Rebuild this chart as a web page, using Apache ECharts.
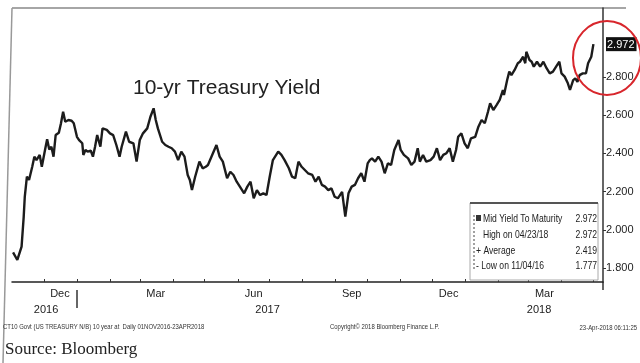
<!DOCTYPE html>
<html><head><meta charset="utf-8">
<script src="https://cdn.jsdelivr.net/npm/echarts@6/dist/echarts.min.js"></script>
<style>html,body{margin:0;padding:0;background:#fff}#c{width:640px;height:363px}</style>
</head><body><div id="c"></div>
<script>
// ---- data ----
const dates = [
'2016-11-02','2016-11-06','2016-11-10','2016-11-12','2016-11-13','2016-11-15','2016-11-17','2016-11-20','2016-11-22','2016-11-24',
'2016-11-27','2016-11-29','2016-12-02','2016-12-04','2016-12-06','2016-12-08','2016-12-10','2016-12-12','2016-12-15','2016-12-17',
'2016-12-19','2016-12-21','2016-12-24','2016-12-27','2016-12-29','2017-01-01','2017-01-03','2017-01-06','2017-01-07','2017-01-09',
'2017-01-11','2017-01-14','2017-01-16','2017-01-18','2017-01-20','2017-01-23','2017-01-25','2017-01-29','2017-02-01','2017-02-04',
'2017-02-07','2017-02-10','2017-02-12','2017-02-16','2017-02-19','2017-02-23','2017-02-26','2017-03-01','2017-03-04','2017-03-08',
'2017-03-11','2017-03-14','2017-03-16','2017-03-18','2017-03-22','2017-03-25','2017-03-28','2017-03-31','2017-04-03','2017-04-06',
'2017-04-09','2017-04-12','2017-04-15','2017-04-17','2017-04-19','2017-04-22','2017-04-26','2017-04-29','2017-05-02','2017-05-04',
'2017-05-08','2017-05-12','2017-05-15','2017-05-18','2017-05-22','2017-05-25','2017-05-28','2017-05-31','2017-06-03','2017-06-07',
'2017-06-10','2017-06-13','2017-06-16','2017-06-19','2017-06-22','2017-06-25','2017-06-28','2017-07-01','2017-07-04','2017-07-09',
'2017-07-12','2017-07-15','2017-07-19','2017-07-22','2017-07-25','2017-07-28','2017-07-31','2017-08-03','2017-08-06','2017-08-10',
'2017-08-13','2017-08-16','2017-08-19','2017-08-22','2017-08-25','2017-08-28','2017-08-31','2017-09-03','2017-09-07','2017-09-10',
'2017-09-13','2017-09-16','2017-09-19','2017-09-22','2017-09-25','2017-09-28','2017-10-01','2017-10-03','2017-10-05','2017-10-08',
'2017-10-11','2017-10-14','2017-10-17','2017-10-20','2017-10-23','2017-10-26','2017-10-30','2017-11-01','2017-11-04','2017-11-08',
'2017-11-11','2017-11-14','2017-11-17','2017-11-19','2017-11-22','2017-11-25','2017-11-29','2017-12-02','2017-12-05','2017-12-08',
'2017-12-11','2017-12-14','2017-12-17','2017-12-20','2017-12-23','2017-12-25','2017-12-28','2017-12-31','2018-01-03','2018-01-06',
'2018-01-10','2018-01-13','2018-01-16','2018-01-19','2018-01-22','2018-01-24','2018-01-27','2018-01-30','2018-02-02','2018-02-05',
'2018-02-06','2018-02-09','2018-02-11','2018-02-13','2018-02-16','2018-02-19','2018-02-21','2018-02-24','2018-02-26','2018-02-27',
'2018-03-02','2018-03-04','2018-03-06','2018-03-09','2018-03-12','2018-03-15','2018-03-18','2018-03-21','2018-03-24','2018-03-28',
'2018-03-30','2018-04-01','2018-04-04','2018-04-07','2018-04-09','2018-04-12','2018-04-14','2018-04-16','2018-04-18','2018-04-21',
'2018-04-24','2018-04-26','2018-04-29','2018-05-01'
];
const yields = [
1.882,1.842,1.912,2.069,2.173,2.278,2.261,2.330,2.383,2.365,
2.392,2.330,2.418,2.474,2.421,2.435,2.383,2.496,2.508,2.558,
2.618,2.566,2.575,2.571,2.558,2.487,2.470,2.453,2.392,2.418,
2.409,2.414,2.383,2.435,2.496,2.435,2.531,2.523,2.505,2.496,
2.444,2.383,2.435,2.514,2.461,2.453,2.357,2.470,2.505,2.531,
2.592,2.636,2.575,2.531,2.461,2.444,2.435,2.427,2.409,2.365,
2.409,2.383,2.287,2.261,2.208,2.278,2.357,2.322,2.330,2.339,
2.392,2.444,2.383,2.357,2.270,2.304,2.287,2.252,2.226,2.191,
2.226,2.252,2.165,2.208,2.182,2.191,2.182,2.278,2.365,2.409,
2.392,2.365,2.322,2.278,2.270,2.357,2.330,2.313,2.296,2.287,
2.252,2.278,2.235,2.226,2.208,2.217,2.173,2.165,2.199,2.069,
2.191,2.226,2.235,2.270,2.296,2.252,2.348,2.365,2.374,2.357,
2.383,2.357,2.296,2.348,2.339,2.418,2.470,2.418,2.392,2.374,
2.339,2.357,2.427,2.357,2.392,2.357,2.365,2.383,2.427,2.365,
2.392,2.401,2.427,2.357,2.418,2.487,2.505,2.453,2.427,2.479,
2.487,2.540,2.575,2.558,2.618,2.662,2.627,2.653,2.680,2.732,
2.706,2.784,2.828,2.810,2.837,2.872,2.880,2.906,2.872,2.932,
2.889,2.880,2.854,2.880,2.854,2.880,2.846,2.819,2.828,2.863,
2.880,2.819,2.802,2.767,2.732,2.784,2.793,2.775,2.810,2.819,
2.819,2.872,2.906,2.972
];
const yTickValues = [1.8, 2.0, 2.2, 2.4, 2.6, 2.8];
const lastValue = 2.972;
const monthTickDates = ['2016-12-01','2017-01-01','2017-02-01','2017-03-01','2017-04-01','2017-05-01','2017-06-01','2017-07-01','2017-08-01','2017-09-01','2017-10-01','2017-11-01','2017-12-01','2018-01-01','2018-02-01','2018-03-01','2018-04-01','2018-05-01'];
const monthLabelDates = ['2016-12-16','2017-03-16','2017-06-16','2017-09-16','2017-12-16','2018-03-16'];
const monthLabels = ['Dec','Mar','Jun','Sep','Dec','Mar'];
const yearLabelDates = ['2016-12-03','2017-06-29','2018-03-11'];
const yearLabels = ['2016','2017','2018'];
const yearSeparatorDates = ['2017-01-01'];
const legendNames = ['Mid Yield To Maturity','High on 04/23/18','Average','Low on 11/04/16'];
const legendValues = ['2.972','2.972','2.419','1.777'];
const footerLeft = 'CT10 Govt (US TREASURY N/B) 10 year at  Daily 01NOV2016-23APR2018';
const footerMid = 'Copyright\u00A9 2018 Bloomberg Finance L.P.';
const footerRight = '23-Apr-2018 06:11:25';

// ---- chart ----
const ts = s => new Date(s + 'T00:00:00Z').getTime();
const near = (arr, v) => arr.findIndex(t => Math.abs(t - v) < 43200000);
const monthTickTs = monthTickDates.map(ts);
const monthLabelTs = monthLabelDates.map(ts);
const yearLabelTs = yearLabelDates.map(ts);
const sepTs = yearSeparatorDates.map(ts);
const seriesData = dates.map((d, i) => [ts(d), yields[i]]);
const FONT = '"Liberation Sans", Arial, sans-serif';
const xMin = ts('2016-11-01'), xMax = ts('2018-05-10');

const chart = echarts.init(document.getElementById('c'), null, {renderer: 'canvas'});

const legendGraphics = [];
const rowY = [219, 235, 251, 266];
legendGraphics.push({type: 'rect', shape: {x: 470, y: 203, width: 128, height: 77}, style: {fill: '#fff', stroke: '#aaa', lineWidth: 1}, z: 5});
legendGraphics.push({type: 'line', shape: {x1: 470, y1: 203, x2: 598, y2: 203}, style: {stroke: '#555', lineWidth: 2}, z: 6});
legendGraphics.push({type: 'line', shape: {x1: 474, y1: 215, x2: 474, y2: 270}, style: {stroke: '#444', lineWidth: 1, lineDash: [2, 2]}, z: 6});
legendGraphics.push({type: 'rect', shape: {x: 476, y: 215, width: 5, height: 6}, style: {fill: '#333'}, z: 6});
const prefixes = ['', '', '+ ', '- '];
legendNames.forEach((n, i) => {
  legendGraphics.push({type: 'text', x: (i < 2 ? 483 : 476), y: rowY[i], z: 6, scaleX: 0.78,
    style: {text: prefixes[i] + n, fill: '#222', font: '11px ' + FONT, textVerticalAlign: 'middle'}});
  legendGraphics.push({type: 'text', x: 597, y: rowY[i], z: 6, scaleX: 0.78,
    style: {text: legendValues[i], fill: '#222', font: '11px ' + FONT, textAlign: 'right', textVerticalAlign: 'middle'}});
});

const option = {
  animation: false,
  backgroundColor: '#fff',
  grid: {left: 12, right: 37, top: 8, bottom: 81},
  xAxis: [{
    type: 'value', min: xMin, max: xMax, position: 'bottom',
    axisLine: {lineStyle: {color: '#222', width: 1.5}},
    axisTick: {customValues: monthTickTs, inside: true, length: 3, lineStyle: {color: '#333'}},
    axisLabel: {customValues: monthLabelTs, margin: 6, color: '#222', fontSize: 11, fontFamily: FONT,
      formatter: v => { const k = near(monthLabelTs, v); return k >= 0 ? monthLabels[k] : ''; }},
    splitLine: {show: false}
  }, {
    type: 'value', min: xMin, max: xMax, position: 'bottom', offset: 8,
    axisLine: {show: false},
    axisTick: {customValues: sepTs, length: 18, lineStyle: {color: '#333', width: 1.5}},
    axisLabel: {customValues: yearLabelTs, margin: 14, color: '#222', fontSize: 11, fontFamily: FONT,
      formatter: v => { const k = near(yearLabelTs, v); return k >= 0 ? yearLabels[k] : ''; }},
    splitLine: {show: false}
  }],
  yAxis: {
    type: 'value', position: 'right', min: 1.7267, max: 3.1613,
    axisLine: {show: true, lineStyle: {color: '#333', width: 1.5}},
    axisTick: {show: true, customValues: yTickValues, length: 3, lineStyle: {color: '#333'}},
    axisLabel: {customValues: yTickValues.concat([lastValue]), margin: 3, color: '#222', fontSize: 11, fontFamily: FONT,
      formatter: v => Math.abs(v - lastValue) < 1e-6 ? '{hl|' + v.toFixed(3) + '}' : v.toFixed(3),
      rich: {hl: {backgroundColor: '#111', color: '#fff', fontSize: 11, fontFamily: FONT, padding: [2, 2, 1, 1]}}},
    splitLine: {show: false}
  },
  series: [{
    type: 'line', xAxisIndex: 0, data: seriesData, showSymbol: false, smooth: false,
    lineStyle: {color: '#1c1c1c', width: 2.4}, z: 3
  }],
  graphic: [
    {type: 'line', shape: {x1: 12, y1: 8, x2: 626, y2: 8}, style: {stroke: '#888', lineWidth: 1.5}},
    {type: 'line', shape: {x1: 12, y1: 8, x2: 3, y2: 363}, style: {stroke: '#999', lineWidth: 1.5}},
    {type: 'line', shape: {x1: 603, y1: 282, x2: 603, y2: 290}, style: {stroke: '#333', lineWidth: 1.5}},
    {type: 'text', x: 133, y: 88, style: {text: '10-yr Treasury Yield', fill: '#222', font: '21px ' + FONT, textVerticalAlign: 'middle'}},
    {type: 'ellipse', shape: {cx: 607, cy: 58, rx: 34, ry: 37}, style: {fill: 'none', stroke: '#d8262c', lineWidth: 2}, z: 10},
    {type: 'text', x: 3, y: 327, scaleX: 0.85, style: {text: footerLeft, fill: '#333', font: '7px ' + FONT, textVerticalAlign: 'middle'}},
    {type: 'text', x: 330, y: 327, scaleX: 0.85, style: {text: footerMid, fill: '#333', font: '7px ' + FONT, textVerticalAlign: 'middle'}},
    {type: 'text', x: 637, y: 328, scaleX: 0.85, style: {text: footerRight, fill: '#333', font: '7px ' + FONT, textAlign: 'right', textVerticalAlign: 'middle'}},
    {type: 'text', x: 5, y: 350, style: {text: 'Source: Bloomberg', fill: '#222', font: '17px "Liberation Serif", "DejaVu Serif", serif', textVerticalAlign: 'middle'}}
  ].concat(legendGraphics)
};
chart.setOption(option);
</script>
</body></html>
